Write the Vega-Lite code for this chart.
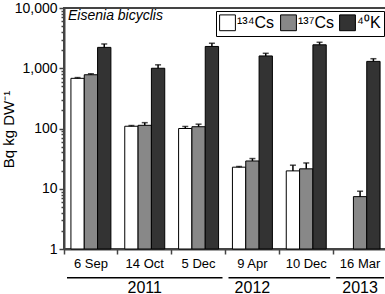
{
  "$schema": "https://vega.github.io/schema/vega-lite/v6.json",
  "padding": {"left": 0, "top": 0, "right": 0, "bottom": 0},
  "config": {
    "font": "Liberation Sans",
    "view": {"stroke": "#444", "strokeWidth": 2},
    "axis": {"labelColor": "black", "titleColor": "black", "domainColor": "#444", "domainWidth": 2, "tickColor": "#444", "tickWidth": 1.5, "grid": false}
  },
  "spacing": 6,
  "vconcat": [
    {
      "width": 323,
      "height": 241,
      "title": {"text": "Eisenia bicyclis", "anchor": "start", "frame": "group", "offset": -22, "fontSize": 14, "fontStyle": "italic", "fontWeight": "normal", "dx": 4},
      "data": {"values": [
        {"date": "6 Sep", "isotope": "¹³⁴Cs", "value": 680, "upper": 700},
        {"date": "6 Sep", "isotope": "¹³⁷Cs", "value": 780, "upper": 810},
        {"date": "6 Sep", "isotope": "⁴⁰K", "value": 2220, "upper": 2530},
        {"date": "14 Oct", "isotope": "¹³⁴Cs", "value": 109, "upper": 112},
        {"date": "14 Oct", "isotope": "¹³⁷Cs", "value": 113, "upper": 125},
        {"date": "14 Oct", "isotope": "⁴⁰K", "value": 1000, "upper": 1140},
        {"date": "5 Dec", "isotope": "¹³⁴Cs", "value": 100, "upper": 108},
        {"date": "5 Dec", "isotope": "¹³⁷Cs", "value": 107, "upper": 118},
        {"date": "5 Dec", "isotope": "⁴⁰K", "value": 2300, "upper": 2600},
        {"date": "9 Apr", "isotope": "¹³⁴Cs", "value": 22.8, "upper": 23.4},
        {"date": "9 Apr", "isotope": "¹³⁷Cs", "value": 28.9, "upper": 31.7},
        {"date": "9 Apr", "isotope": "⁴⁰K", "value": 1600, "upper": 1770},
        {"date": "10 Dec", "isotope": "¹³⁴Cs", "value": 19.8, "upper": 24.6},
        {"date": "10 Dec", "isotope": "¹³⁷Cs", "value": 21.4, "upper": 26.8},
        {"date": "10 Dec", "isotope": "⁴⁰K", "value": 2450, "upper": 2700},
        {"date": "16 Mar", "isotope": "¹³⁷Cs", "value": 7.4, "upper": 9.1},
        {"date": "16 Mar", "isotope": "⁴⁰K", "value": 1300, "upper": 1440}
      ]},
      "encoding": {
        "x": {"field": "date", "type": "nominal", "sort": ["6 Sep", "14 Oct", "5 Dec", "9 Apr", "10 Dec", "16 Mar"],
              "scale": {"paddingInner": 0, "paddingOuter": 0},
              "axis": {"title": null, "labelAngle": 0, "labelFontSize": 13, "tickSize": 5, "bandPosition": 0, "labelPadding": 3}},
        "xOffset": {"field": "isotope", "type": "nominal", "sort": ["¹³⁴Cs", "¹³⁷Cs", "⁴⁰K"], "scale": {"paddingInner": 0, "paddingOuter": 0.52}}
      },
      "layer": [
        {
          "mark": {"type": "bar", "stroke": "black", "strokeWidth": 1},
          "encoding": {
            "y": {"field": "value", "type": "quantitative", "stack": null,
                  "scale": {"type": "log", "domain": [1, 10000], "nice": false},
                  "axis": {"title": "Bq kg DW⁻¹", "titleFontSize": 15, "titleFontWeight": "normal", "titleX": -48, "titleY": 121,
                           "labelFontSize": 14, "format": ",",
                           "values": [1,2,3,4,5,6,7,8,9,10,20,30,40,50,60,70,80,90,100,200,300,400,500,600,700,800,900,1000,2000,3000,4000,5000,6000,7000,8000,9000,10000],
                           "labelExpr": "indexof([1,10,100,1000,10000], datum.value) >= 0 ? datum.label : ''",
                           "tickSize": {"condition": {"test": "indexof([1,10,100,1000,10000], datum.value) >= 0", "value": 5}, "value": 3},
                           "labelPadding": 2}},
            "fill": {"field": "isotope", "type": "nominal", "sort": ["¹³⁴Cs", "¹³⁷Cs", "⁴⁰K"],
                     "scale": {"domain": ["¹³⁴Cs", "¹³⁷Cs", "⁴⁰K"], "range": ["#ffffff", "#888888", "#333333"]},
                     "legend": {"title": null, "orient": "top-right", "direction": "horizontal", "symbolType": "square", "symbolSize": 250,
                                "symbolStrokeColor": "black", "symbolStrokeWidth": 1, "labelFontSize": 16, "labelColor": "black",
                                "strokeColor": "black", "fillColor": "white", "padding": 3, "columnPadding": 3, "labelOffset": 1, "offset": 3}}
          }
        },
        {
          "mark": {"type": "rule", "color": "black", "strokeWidth": 1.5},
          "encoding": {"y": {"field": "value", "type": "quantitative"}, "y2": {"field": "upper"}}
        },
        {
          "mark": {"type": "tick", "color": "black", "orient": "horizontal", "size": 6, "thickness": 1.5},
          "encoding": {"y": {"field": "upper", "type": "quantitative"}}
        }
      ]
    },
    {
      "spacing": 0,
      "vconcat": [
        {
          "width": 323,
          "height": 1.5,
          "view": {"stroke": null},
          "data": {"values": [
            {"year": "2011", "start": "6 Sep", "end": "5 Dec"},
            {"year": "2012", "start": "9 Apr", "end": "10 Dec"},
            {"year": "2013", "start": "16 Mar", "end": "16 Mar"}
          ]},
          "mark": {"type": "rect", "color": "black", "xOffset": 3, "x2Offset": -3},
          "encoding": {
            "x": {"field": "start", "type": "nominal", "bandPosition": 0,
                  "scale": {"domain": ["6 Sep", "14 Oct", "5 Dec", "9 Apr", "10 Dec", "16 Mar"], "paddingInner": 0, "paddingOuter": 0},
                  "axis": null},
            "x2": {"field": "end", "bandPosition": 1}
          }
        },
        {
          "width": 323,
          "height": 18,
          "view": {"stroke": null},
          "data": {"values": [
            {"year": "2011", "center": "14 Oct", "edge": null},
            {"year": "2012", "center": null, "edge": "9 Apr"},
            {"year": "2013", "center": "16 Mar", "edge": null}
          ]},
          "layer": [
            {
              "transform": [{"filter": "datum.center != null"}],
              "mark": {"type": "text", "fontSize": 16, "color": "black"},
              "encoding": {
                "x": {"field": "center", "type": "nominal", "bandPosition": 0.5,
                      "scale": {"domain": ["6 Sep", "14 Oct", "5 Dec", "9 Apr", "10 Dec", "16 Mar"], "paddingInner": 0, "paddingOuter": 0},
                      "axis": null},
                "text": {"field": "year"}
              }
            },
            {
              "transform": [{"filter": "datum.edge != null"}],
              "mark": {"type": "text", "fontSize": 16, "color": "black"},
              "encoding": {
                "x": {"field": "edge", "type": "nominal", "bandPosition": 1,
                      "scale": {"domain": ["6 Sep", "14 Oct", "5 Dec", "9 Apr", "10 Dec", "16 Mar"], "paddingInner": 0, "paddingOuter": 0},
                      "axis": null},
                "text": {"field": "year"}
              }
            }
          ]
        }
      ]
    }
  ]
}
